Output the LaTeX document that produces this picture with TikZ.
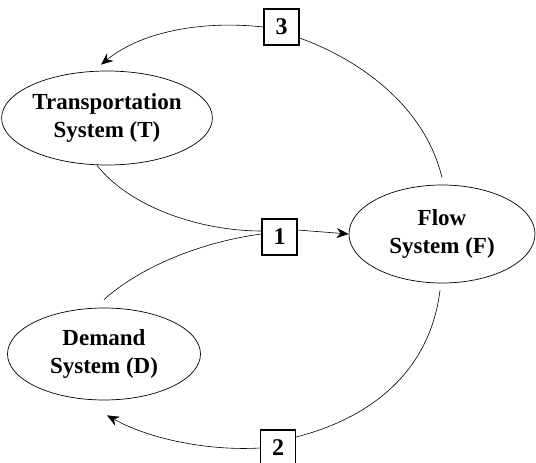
\documentclass[tikz,border=0pt]{standalone}
\usepackage{fontspec}
\setmainfont{Liberation Serif}
\usetikzlibrary{shapes.geometric,arrows.meta}
\begin{document}
\begin{tikzpicture}[x=1pt,y=-1pt,
  sysnode/.style={draw,ellipse,inner sep=0pt,line width=0.7pt,align=center,
    font=\bfseries\fontsize{23}{28.3}\selectfont},
  numbox/.style={draw,rectangle,line width=1.1pt,minimum width=35pt,minimum height=36pt,
    inner sep=0pt,font=\bfseries\fontsize{24}{24}\selectfont},
  link/.style={line width=0.6pt},
  arr/.style={link,-{Stealth[length=12pt,width=10pt]}}]
\useasboundingbox (0,0) rectangle (536,463);
\clip (0,0) rectangle (536,463);

% the three systems
\node[sysnode,minimum width=195pt,minimum height=94pt] (T) at (107,118) {Transportation\\System (T)};
\node[sysnode,minimum width=186pt,minimum height=98pt] (F) at (442,234) {Flow\\System (F)};
\node[sysnode,minimum width=193pt,minimum height=92pt] (D) at (104,354) {Demand\\System (D)};

% numbered links
\node[numbox] (b1) at (279.5,237) {1};
\node[numbox] (b3) at (281.5,27) {3};
\node[numbox] (b2) at (278,448) {2};

% T and D feed link 1, which drives F
\draw[link] ([xshift=-10pt]T.south) .. controls +(33,42) and +(-61,0) .. ([yshift=6pt]b1.west);
\draw[link] ([yshift=8pt]D.north) .. controls +(35,-32) and +(-61,8) .. ([yshift=3pt]b1.west);
\draw[arr] ([yshift=7pt]b1.east) -- (F.west);

% F back to T through link 3
\draw[link] ([yshift=7pt]F.north) .. controls +(-17,-71) and +(61,22) .. ([yshift=-11pt]b3.east);
\draw[arr] (b3.west) .. controls +(-64,-7) and +(39,-32) .. ([shift={(-6pt,6pt)}]T.north);

% F back to D through link 2
\draw[link] ([shift={(-2pt,-7pt)}]F.south) .. controls +(-10,81) and +(75,-19) .. ([yshift=11pt]b2.east);
\draw[arr] (b2.west) .. controls +(-51,3) and +(43,24) .. ([shift={(3pt,-15pt)}]D.south);
\end{tikzpicture}
\end{document}
